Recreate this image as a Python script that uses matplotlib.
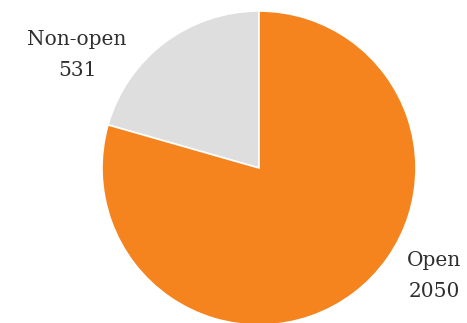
import matplotlib
matplotlib.use("Agg")
import matplotlib.pyplot as plt

categories = ["Non-open", "Open"]
values = [531, 2050]
colors = ["#DEDEDE", "#F5841F"]

W, H = 467, 323
fig = plt.figure(figsize=(W / 100, H / 100), dpi=100)
fig.patch.set_facecolor("white")

cx, cy, r = 259, 168, 157
ax = fig.add_axes([(cx - r) / W, (H - cy - r) / H, 2 * r / W, 2 * r / H])
ax.pie(values, colors=colors, startangle=90, counterclock=True,
       wedgeprops=dict(edgecolor="white", linewidth=1.2), radius=1)
ax.set_xlim(-1, 1)
ax.set_ylim(-1, 1)
ax.set_aspect("equal")
ax.axis("off")

label_pos = [(77, 55), (434, 276)]
for (x, y), cat, val in zip(label_pos, categories, values):
    fig.text(x / W, 1 - y / H, f"{cat}\n{val}", ha="center", va="center",
             fontsize=14.5, family="DejaVu Serif",
             color="#2e2e2e", linespacing=1.75)

fig.savefig("out.png", dpi=100)
